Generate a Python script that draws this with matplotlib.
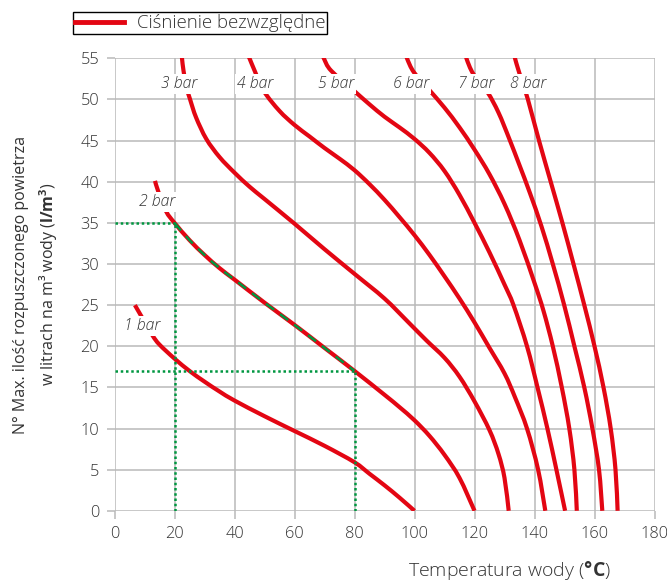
import matplotlib
matplotlib.use("Agg")
import numpy as np
import matplotlib.pyplot as plt
from matplotlib.lines import Line2D
from matplotlib.path import Path
from matplotlib.patches import PathPatch

plt.rcParams['font.family'] = ['Open Sans', 'DejaVu Sans']
plt.rcParams['font.weight'] = 'light'
plt.rcParams['mathtext.fontset'] = 'custom'
plt.rcParams['mathtext.rm'] = 'Open Sans:light'
plt.rcParams['mathtext.bf'] = 'Open Sans:bold'
plt.rcParams['mathtext.it'] = 'Open Sans:italic'

# ---- data (temperature °C, dissolved air l/m3) ----
bar1_x = [6.8, 9.5, 12.7, 15.0, 20.0, 25.0, 30.0, 35.0, 40.0, 50.0, 60.0, 70.0, 80.0, 85.0, 90.0, 95.0, 100.0]
bar1_y = [25.0, 23.3, 21.3, 20.2, 18.5, 17.0, 15.7, 14.5, 13.4, 11.5, 9.7, 7.9, 5.9, 4.5, 3.1, 1.6, 0.0]

bar2_x = [13.5, 14.6, 17.2, 20.0, 25.0, 30.0, 35.0, 40.0, 50.0, 60.0, 70.0, 80.0, 90.0, 95.0, 100.0, 105.0, 110.0, 115.0, 120.0]
bar2_y = [40.1, 38.8, 36.4, 35.0, 32.9, 31.1, 29.5, 28.1, 25.3, 22.6, 19.8, 17.0, 14.1, 12.6, 11.0, 9.1, 6.8, 4.0, 0.0]

bar3_x = [22.2, 22.5, 23.0, 24.0, 25.2, 27.2, 30.6, 35.0, 40.0, 45.0, 50.0, 60.0, 70.0, 80.0, 90.0, 98.0, 104.0, 110.0, 115.0, 120.0, 125.0, 128.0, 130.0, 131.4]
bar3_y = [56.0, 55.0, 53.5, 51.5, 50.0, 47.8, 45.2, 43.0, 41.1, 39.4, 37.9, 34.9, 31.8, 28.8, 25.8, 22.9, 20.7, 18.6, 16.3, 13.3, 9.8, 6.9, 4.0, 0.0]

bar4_x = [44.6, 45.0, 46.7, 49.8, 55.0, 60.0, 65.0, 70.0, 75.0, 80.0, 85.0, 90.0, 95.0, 100.0, 105.0, 110.0, 115.0, 120.0, 125.0, 130.0, 133.5, 137.5, 141.2, 143.6]
bar4_y = [55.3, 55.0, 53.5, 51.0, 48.6, 46.9, 45.5, 44.1, 42.8, 41.4, 39.7, 37.8, 35.7, 33.5, 31.1, 28.5, 25.8, 22.9, 19.8, 16.7, 13.8, 10.0, 5.0, 0.0]

bar5_x = [69.5, 69.9, 72.2, 80.0, 85.0, 90.0, 95.0, 100.0, 105.0, 110.0, 115.0, 120.0, 125.0, 130.0, 133.0, 137.5, 141.0, 144.3, 147.3, 150.2]
bar5_y = [55.4, 54.9, 53.5, 51.0, 49.4, 47.9, 46.6, 45.2, 43.5, 41.3, 38.4, 35.0, 31.4, 27.5, 25.0, 20.0, 15.0, 10.0, 5.0, 0.0]

bar6_x = [97.2, 97.6, 99.8, 104.8, 110.0, 115.0, 120.0, 125.0, 130.0, 135.0, 140.0, 143.0, 146.1, 149.1, 151.6, 153.3, 154.1]
bar6_y = [55.5, 54.9, 53.3, 51.2, 49.0, 46.6, 43.9, 40.9, 37.3, 32.9, 27.7, 24.3, 20.0, 15.0, 10.0, 5.0, 0.0]

bar7_x = [117.2, 117.4, 119.6, 124.3, 128.0, 131.5, 135.0, 138.5, 142.3, 146.1, 149.9, 153.3, 156.6, 159.3, 161.5, 162.6]
bar7_y = [55.5, 54.9, 53.1, 50.9, 48.4, 45.3, 42.0, 38.6, 34.6, 30.0, 25.0, 20.0, 15.0, 10.0, 5.0, 0.0]

bar8_x = [133.3, 133.5, 134.7, 136.7, 137.8, 141.5, 145.4, 149.3, 153.0, 156.6, 160.0, 163.0, 165.4, 167.0, 167.7]
bar8_y = [55.5, 55.0, 53.5, 51.2, 50.0, 45.0, 40.0, 35.0, 30.0, 25.0, 20.0, 15.0, 10.0, 5.0, 0.0]

curve_labels = ["1 bar", "2 bar", "3 bar", "4 bar", "5 bar", "6 bar", "7 bar", "8 bar"]
label_x = [9.3, 14.1, 21.5, 47.0, 73.7, 98.8, 120.4, 138.0]
label_y = [22.5, 37.5, 51.9, 51.9, 51.9, 51.9, 51.9, 51.9]

# example reading (green)
example_temp = [20, 80]
example_air = [35, 17]

x_ticks = [0, 20, 40, 60, 80, 100, 120, 140, 160, 180]
y_ticks = [0, 5, 10, 15, 20, 25, 30, 35, 40, 45, 50, 55]

RED = '#e30613'
GREEN = '#009640'
GRID = '#b9b9b9'
TXT = '#333333'


def smooth_path(xs, ys):
    """Smooth curve through the data points (Catmull-Rom as cubic Bezier)."""
    p = np.column_stack([xs, ys]).astype(float)
    n = len(p)
    verts = [p[0]]
    codes = [Path.MOVETO]
    for i in range(n - 1):
        p0 = p[i - 1] if i > 0 else p[i]
        p1 = p[i]
        p2 = p[i + 1]
        p3 = p[i + 2] if i + 2 < n else p[i + 1]
        verts += [p1 + (p2 - p0) / 6.0, p2 - (p3 - p1) / 6.0, p2]
        codes += [Path.CURVE4] * 3
    return Path(verts, codes)


fig = plt.figure(figsize=(6.67, 5.81), dpi=100)
ax = fig.add_axes([114.5 / 667, 1 - 510.8 / 581, (654.5 - 114.5) / 667, (510.8 - 58.3) / 581])

curves_x = [bar1_x, bar2_x, bar3_x, bar4_x, bar5_x, bar6_x, bar7_x, bar8_x]
curves_y = [bar1_y, bar2_y, bar3_y, bar4_y, bar5_y, bar6_y, bar7_y, bar8_y]
for cx, cy in zip(curves_x, curves_y):
    ax.add_patch(PathPatch(smooth_path(cx, cy), fill=False, edgecolor=RED, lw=3.0,
                           capstyle='butt', joinstyle='round', zorder=3))

# green example lines
dot = dict(color=GREEN, lw=1.8, linestyle=(0, (1, 1.1)), zorder=4)
for t, a in zip(example_temp, example_air):
    ax.plot([0, t], [a, a], **dot)
    ax.plot([t, t], [0, a], **dot)
seg_x = [x for x in bar2_x if example_temp[0] <= x <= example_temp[1]]
seg_y = [y for x, y in zip(bar2_x, bar2_y) if example_temp[0] <= x <= example_temp[1]]
ax.add_patch(PathPatch(smooth_path(seg_x, seg_y), fill=False, edgecolor=GREEN, lw=1.8,
                       linestyle=(0, (4, 3)), zorder=4))

for lab, lx, ly in zip(curve_labels, label_x, label_y):
    ax.text(lx, ly, lab, ha='center', va='center', fontsize=11.3, style='italic',
            color=TXT, zorder=6,
            bbox=dict(facecolor='white', edgecolor='none', pad=1.5))

ax.set_xlim(0, 180)
ax.set_ylim(0, 55)
ax.set_xticks(x_ticks)
ax.set_yticks(y_ticks)
ax.grid(True, color=GRID, lw=1.1, zorder=0)
ax.set_axisbelow(True)
for s in ax.spines.values():
    s.set_visible(False)
ax.tick_params(axis='both', colors=GRID, labelcolor=TXT, labelsize=11.8, length=6, width=1.1)
ax.tick_params(axis='x', pad=5)
ax.tick_params(axis='y', pad=5)

ax.set_ylabel("N° Max. ilość rozpuszczonego powietrza\nw litrach na m³ wody ($\\mathbf{l/m^3}$)",
              fontsize=11.5, color=TXT, labelpad=15, linespacing=1.5)

fig.text(611 / 667, 1 - 571 / 581, "Temperatura wody ($\\mathbf{°C}$)", ha='right', va='center',
         fontsize=14, color=TXT)

handle = Line2D([], [], color=RED, lw=3.5)
leg = fig.legend([handle], ["Ciśnienie bezwzględne"], loc='upper left',
                 bbox_to_anchor=(73 / 667, 1 - 12 / 581), borderaxespad=0,
                 fancybox=False, framealpha=1, edgecolor='black', fontsize=13.4,
                 handlelength=2.6, borderpad=0.12, handletextpad=0.7)
leg.get_frame().set_linewidth(1.0)
for t in leg.get_texts():
    t.set_color(TXT)

fig.savefig("out.png", dpi=100, facecolor='white')
